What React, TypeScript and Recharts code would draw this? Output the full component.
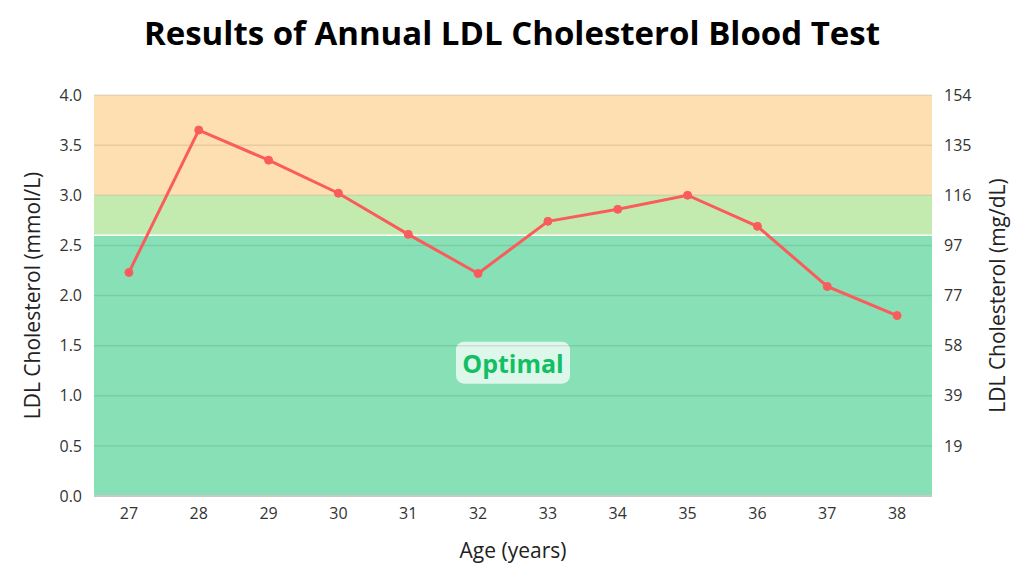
import { ComposedChart, Line, XAxis, YAxis, ReferenceArea, ReferenceLine } from 'recharts';

const ages = ['27', '28', '29', '30', '31', '32', '33', '34', '35', '36', '37', '38'];
const ldl = [2.23, 3.65, 3.35, 3.02, 2.61, 2.22, 2.74, 2.86, 3.0, 2.69, 2.09, 1.8];
const leftTicks = [0, 0.5, 1, 1.5, 2, 2.5, 3, 3.5, 4];
const rightLabels = ['', '19', '39', '58', '77', '97', '116', '135', '154'];

const data = ages.map((age, i) => ({ age, ldl: ldl[i] }));

const OptimalLabel = (props: any) => {
  const vb = props.viewBox;
  const cx = vb.x + vb.width / 2;
  const cy = vb.y + vb.height / 2 - 3;
  return (
    <g>
      <rect x={cx - 57} y={cy - 21} width={114} height={42} rx={8} fill="#ffffff" fillOpacity={0.72} />
      <text x={cx} y={cy} textAnchor="middle" dominantBaseline="central" fill="#12bf63"
        style={{ fontFamily: 'Open Sans', fontWeight: 700, fontSize: 25 }}>
        Optimal
      </text>
    </g>
  );
};

export default function App() {
  const tickStyle = { fontFamily: 'Open Sans', fontSize: 16, fill: '#333' };
  const titleStyle = { textAnchor: 'middle', fontFamily: 'Open Sans', fontSize: 21, fill: '#222' };
  return (
    <div style={{ position: 'absolute', left: 0, top: 0, width: 1024, height: 576, background: '#fff' }}>
      <div style={{ position: 'absolute', left: 0, top: 10, width: 1024, textAlign: 'center', fontFamily: 'Open Sans', fontWeight: 700, fontSize: 33, color: '#000' }}>
        Results of Annual LDL Cholesterol Blood Test
      </div>
      <ComposedChart width={1024} height={576} data={data} margin={{ top: 95, right: 0, bottom: 0, left: 0 }}>
        <ReferenceArea yAxisId="l" y1={3} y2={4} fill="#fedfb1" fillOpacity={1} stroke="none" />
        <ReferenceArea yAxisId="l" y1={2.6} y2={3} fill="#c3ebb0" fillOpacity={1} stroke="none" />
        <ReferenceArea yAxisId="l" y1={0} y2={2.6} fill="#88e0b6" fillOpacity={1} stroke="none" label={<OptimalLabel />} />
        {leftTicks.map((t) => (
          <ReferenceLine key={t} yAxisId="l" y={t} stroke="#000" strokeOpacity={t === 0 ? 0 : 0.09} strokeWidth={1.5} />
        ))}
        <ReferenceLine yAxisId="l" y={2.6} stroke="#ffffff" strokeWidth={1.5} />
        <XAxis dataKey="age" scale="band" height={80} tickLine={false} axisLine={{ stroke: '#c8c8c8', strokeWidth: 2 }}
          tick={tickStyle} tickMargin={6}
          label={{ value: 'Age (years)', position: 'insideBottom', offset: 18, style: titleStyle }} />
        <YAxis yAxisId="l" orientation="left" width={94} domain={[0, 4]} ticks={leftTicks} tickLine={false} axisLine={false}
          tick={tickStyle} tickMargin={6} tickFormatter={(v: number) => v.toFixed(1)}
          label={{ value: 'LDL Cholesterol (mmol/L)', angle: -90, position: 'insideLeft', offset: 33, style: titleStyle }} />
        <YAxis yAxisId="r" orientation="right" width={92} domain={[0, 4]} ticks={leftTicks} tickLine={false} axisLine={false}
          tick={tickStyle} tickMargin={6} tickFormatter={(v: number) => rightLabels[leftTicks.indexOf(v)] ?? ''}
          label={{ value: 'LDL Cholesterol (mg/dL)', angle: -90, position: 'insideRight', offset: 26, style: titleStyle }} />
        <Line yAxisId="r" type="linear" dataKey="ldl" stroke="none" dot={false} activeDot={false} legendType="none" isAnimationActive={false} />
        <Line yAxisId="l" type="linear" dataKey="ldl" stroke="#fa5c5c" strokeWidth={3} isAnimationActive={false}
          dot={{ r: 4, fill: '#fa5c5c', stroke: '#fa5c5c', strokeWidth: 1 }} />
      </ComposedChart>
    </div>
  );
}
